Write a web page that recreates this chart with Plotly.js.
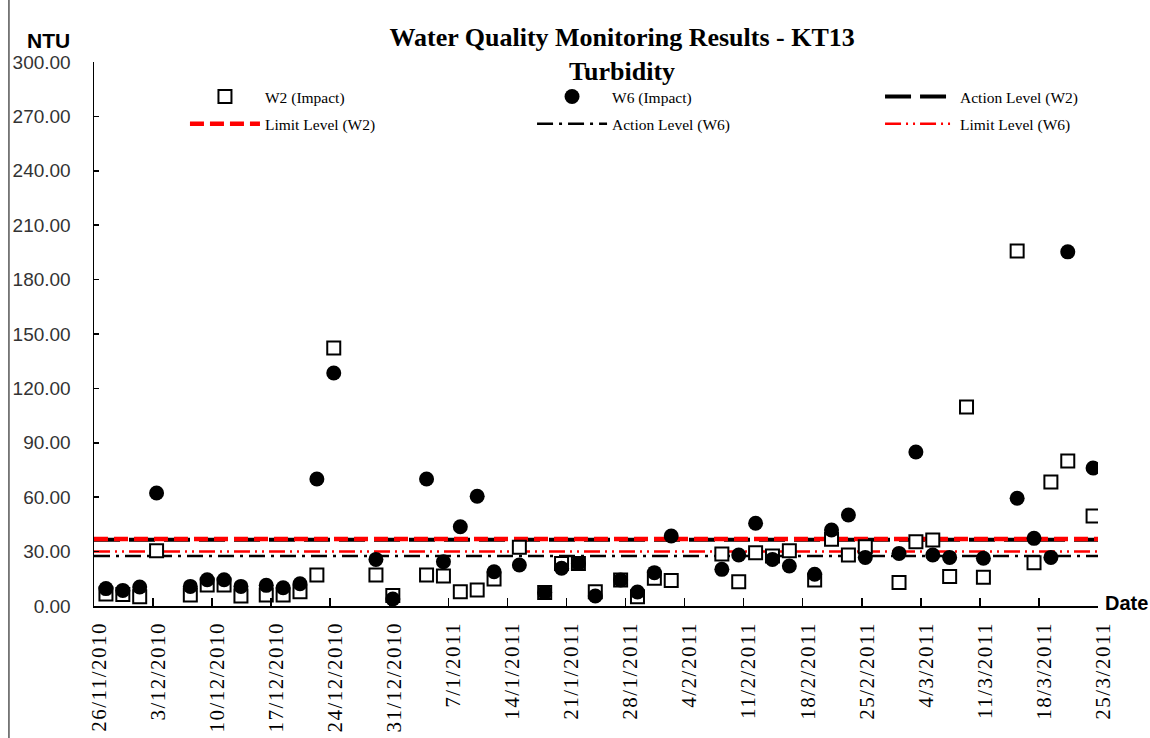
<!DOCTYPE html>
<html>
<head>
<meta charset="utf-8">
<script src="https://cdn.plot.ly/plotly-3.0.1.min.js"></script>
<style>
  html, body { margin: 0; padding: 0; background: #fff; }
  #chart { width: 1150px; height: 738px; }
  #chart .xtick text { letter-spacing: 1.5px; }
</style>
</head>
<body>
<div id="chart"></div>
<script>
// Sampling dates (approx. 10:00 each day)
const sampleDates = [
  '2010-11-27 10:00','2010-11-29 10:00','2010-12-01 10:00','2010-12-03 10:00',
  '2010-12-07 10:00','2010-12-09 10:00','2010-12-11 10:00','2010-12-13 10:00',
  '2010-12-16 10:00','2010-12-18 10:00','2010-12-20 10:00','2010-12-22 10:00',
  '2010-12-24 10:00','2010-12-29 10:00','2010-12-31 10:00','2011-01-04 10:00',
  '2011-01-06 10:00','2011-01-08 10:00','2011-01-10 10:00','2011-01-12 10:00',
  '2011-01-15 10:00','2011-01-18 10:00','2011-01-20 10:00','2011-01-22 10:00',
  '2011-01-24 10:00','2011-01-27 10:00','2011-01-29 10:00','2011-01-31 10:00',
  '2011-02-02 10:00','2011-02-08 10:00','2011-02-10 10:00','2011-02-12 10:00',
  '2011-02-14 10:00','2011-02-16 10:00','2011-02-19 10:00','2011-02-21 10:00',
  '2011-02-23 10:00','2011-02-25 10:00','2011-03-01 10:00','2011-03-03 10:00',
  '2011-03-05 10:00','2011-03-07 10:00','2011-03-09 10:00','2011-03-11 10:00',
  '2011-03-15 10:00','2011-03-17 10:00','2011-03-19 10:00','2011-03-21 10:00',
  '2011-03-24 10:00'
];

// Turbidity (NTU) at W2 (Impact)
const w2Values = [
  6.6, 6.4, 5.1, 30.5, 6.1, 11.6, 11.6, 5.5,
  6.0, 6.0, 7.9, 17.1, 142.3, 17.1, 5.8, 17.1,
  16.5, 7.9, 8.8, 14.9, 32.4, 7.4, 23.5, 23.5,
  7.9, 14.3, 5.1, 15.3, 14.0, 28.7, 13.4, 29.4,
  27.6, 30.5, 14.3, 36.8, 28.1, 32.7, 12.9, 35.5,
  36.4, 16.2, 109.8, 15.8, 195.8, 23.9, 68.4, 80.0,
  49.6
];

// Turbidity (NTU) at W6 (Impact)
const w6Values = [
  9.6, 8.6, 10.5, 62.3, 10.8, 14.5, 14.5, 10.8,
  11.4, 10.1, 12.3, 70.0, 128.5, 25.7, 3.9, 70.0,
  24.4, 43.7, 60.5, 18.9, 22.6, 7.5, 20.8, 23.5,
  5.5, 14.3, 7.7, 18.4, 38.6, 20.2, 28.1, 45.6,
  25.7, 22.1, 17.5, 41.9, 50.2, 26.8, 29.0, 84.9,
  28.1, 26.8, null, 26.3, 59.4, 37.3, 26.8, 195.3,
  76.1
];

// Action / Limit levels (NTU)
const actionLevelW2 = 36.6;
const limitLevelW2 = 37.0;
const actionLevelW6 = 27.6;
const limitLevelW6 = 30.0;

// Axis extent and ticks
const axisStart = '2010-11-26';
const axisEnd = '2011-03-25';
const levelSpan = [axisStart, axisEnd];
const yMax = 300;
const yStep = 30;

const serif = 'Liberation Serif, Times New Roman, serif';
const sans = 'Liberation Sans, Arial, sans-serif';

function levelTrace(name, level, color, width, dash, legendId, rank) {
  return {
    type: 'scatter', mode: 'lines', name: name,
    x: levelSpan, y: levelSpan.map(() => level),
    line: { color: color, width: width, dash: dash },
    hoverinfo: 'skip', legend: legendId, legendrank: rank, legendgroup: name
  };
}

const traces = [
  levelTrace('Action Level (W2)', actionLevelW2, '#000000', 4, '26px,9px', 'legend3', 1),
  levelTrace('Limit Level (W2)', limitLevelW2, '#ff0000', 4.5, '14px,6px', 'legend', 2),
  levelTrace('Action Level (W6)', actionLevelW6, '#000000', 2.5, '16px,6px,3px,6px', 'legend2', 2),
  levelTrace('Limit Level (W6)', limitLevelW6, '#ff0000', 2.5, '16px,5px,2px,5px,2px,5px', 'legend3', 2),
  {
    type: 'scatter', mode: 'markers', name: 'W2 (Impact)',
    x: sampleDates, y: w2Values,
    marker: { symbol: 'square', size: 13, color: '#ffffff', line: { color: '#000000', width: 2 } },
    legend: 'legend', legendrank: 1, legendgroup: 'W2'
  },
  {
    type: 'scatter', mode: 'markers', name: 'W6 (Impact)',
    x: sampleDates, y: w6Values,
    marker: { symbol: 'circle', size: 15, color: '#000000', line: { width: 0 } },
    legend: 'legend2', legendrank: 1, legendgroup: 'W6'
  }
];

function legendBox(xPaper) {
  return {
    orientation: 'v',
    x: xPaper, xanchor: 'left',
    y: 0.967, yanchor: 'top',
    itemwidth: 70,
    font: { family: serif, size: 15.5, color: '#000000' },
    bgcolor: 'rgba(0,0,0,0)',
    traceorder: 'grouped', tracegroupgap: 4,
    itemclick: false, itemdoubleclick: false
  };
}

const layout = {
  width: 1150, height: 738,
  margin: { l: 94, r: 52, t: 62, b: 132 },
  paper_bgcolor: '#ffffff', plot_bgcolor: '#ffffff',
  showlegend: true,
  title: {
    text: '<b>Water Quality Monitoring Results - KT13<br>Turbidity</b>',
    font: { family: serif, size: 26, color: '#000000' },
    x: 0.526, xref: 'paper', xanchor: 'center',
    y: 1, yref: 'container', yanchor: 'top', pad: { t: 46 }
  },
  xaxis: {
    type: 'date',
    range: [axisStart, axisEnd],
    tick0: axisStart, dtick: 7 * 24 * 3600 * 1000,
    tickformat: '%-d/%-m/%Y',
    tickangle: -90,
    ticks: 'inside', ticklen: 8, tickwidth: 1.5, tickcolor: '#000000',
    showline: true, linecolor: '#000000', linewidth: 1.5,
    showgrid: false, zeroline: false,
    tickfont: { family: serif, size: 21, color: '#000000' },
    ticklabelstandoff: 6,
    ticklabelshift: 5
  },
  yaxis: {
    range: [0, yMax], dtick: yStep, tick0: 0,
    tickformat: '.2f',
    ticks: 'inside', ticklen: 5, tickwidth: 1.5, tickcolor: '#000000',
    showline: true, linecolor: '#000000', linewidth: 1.5,
    showgrid: false, zeroline: false,
    tickfont: { family: sans, size: 19, color: '#333333' },
    ticklabelstandoff: 18
  },
  legend: legendBox(0.0906),
  legend2: legendBox(0.4363),
  legend3: legendBox(0.7829),
  annotations: [
    { text: '<b>NTU</b>', xref: 'paper', yref: 'paper', x: -0.045, y: 1.04,
      xanchor: 'center', yanchor: 'middle', showarrow: false,
      font: { family: sans, size: 21, color: '#000000' } },
    { text: '<b>Date</b>', xref: 'paper', yref: 'paper', x: 1.005, y: 0.005,
      xanchor: 'left', yanchor: 'middle', showarrow: false,
      font: { family: sans, size: 20, color: '#000000' } }
  ],
  shapes: [
    { type: 'line', xref: 'paper', yref: 'paper', x0: -0.0847, x1: -0.0847, y0: -0.3, y1: 1.2,
      line: { color: '#000000', width: 1 } }
  ]
};

Plotly.newPlot('chart', traces, layout, { displayModeBar: false, staticPlot: true });
</script>
</body>
</html>
